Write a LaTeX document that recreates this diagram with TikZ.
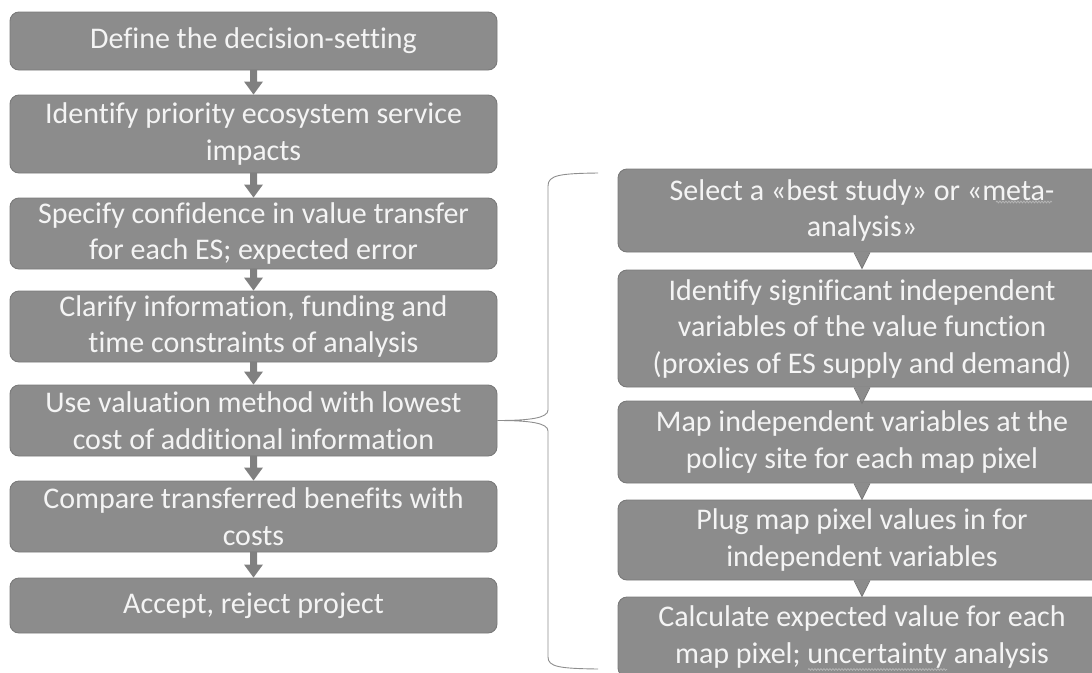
\documentclass[tikz,border=0pt]{standalone}
\usepackage{fontspec}
\setmainfont{Carlito}[Ligatures={NoCommon}]
\usetikzlibrary{calc,decorations.pathmorphing}
\definecolor{boxfill}{HTML}{8C8C8C}
\definecolor{boxline}{HTML}{7A7A7A}
\definecolor{arrowc}{HTML}{808080}
\definecolor{txt}{HTML}{F4F4F4}
\definecolor{bracec}{HTML}{8E8E8E}
\definecolor{wavec}{HTML}{B4B4B4}
\begin{document}
\begin{tikzpicture}[x=1pt,y=-1pt,
  box/.style={draw=boxline, line width=0.9pt, fill=boxfill, rounded corners=9pt,
    text=txt, align=center, font=\fontsize{30}{36.5}\selectfont, inner sep=0pt},
  lbox/.style={box, minimum width=487pt},
  rbox/.style={box, minimum width=488pt},
  bracestyle/.style={draw=bracec, line width=0.9pt},
  wavy/.style={draw=wavec, line width=0.8pt, decorate,
    decoration={snake, amplitude=0.9pt, segment length=3pt}}
]
\useasboundingbox (0,0) rectangle (1092,672);
\clip (0,0) rectangle (1092,672);

% left column
\node[lbox, minimum height=58pt] (L1) at (253.5,41) {Define the decision-setting};
\node[lbox, minimum height=78pt] (L2) at (253.5,134) {Identify priority ecosystem service\\impacts};
\node[lbox, minimum height=71pt] (L3) at (253.5,233.5) {Specify confidence in value transfer\\for each ES; expected error};
\node[lbox, minimum height=71pt] (L4) at (253.5,326.5) {Clarify information, funding and\\time constraints of analysis};
\node[lbox, minimum height=71pt] (L5) at (253.5,420.5) {Use valuation method with lowest\\cost of additional information};
\node[lbox, minimum height=71pt] (L6) at (253.5,516.5) {Compare transferred benefits with\\costs};
\node[lbox, minimum height=55pt] (L7) at (253.5,605.5) {Accept, reject project};

% left arrows
\foreach \a/\b in {L1/L2,L2/L3,L3/L4,L4/L5,L5/L6,L6/L7}{
  \fill[arrowc] ($(\a.south)+(-3.5,-0.5)$) -- ($(\b.north)+(-3.5,-13)$)
    -- ($(\b.north)+(-9.5,-13)$) -- ($(\b.north)+(0,0)$)
    -- ($(\b.north)+(9.5,-13)$) -- ($(\b.north)+(3.5,-13)$)
    -- ($(\a.south)+(3.5,-0.5)$) -- cycle;
}

% right column
\node[rbox, minimum height=83pt] (R1) at (862,210.5) {Select a «best study» or «meta-\\analysis»};
\node[rbox, minimum height=117pt] (R2) at (862,328.5) {Identify significant independent\\variables of the value function\\(proxies of ES supply and demand)};
\node[rbox, minimum height=82pt] (R3) at (862,442) {Map independent variables at the\\policy site for each map pixel};
\node[rbox, minimum height=80pt] (R4) at (862,540) {Plug map pixel values in for\\independent variables};
\node[rbox, minimum height=80pt] (R5) at (862,637) {Calculate expected value for each\\map pixel; uncertainty analysis};

% right pointers
\foreach \a in {R1,R2,R3,R4}{
  \fill[boxfill] ($(\a.south)+(-8,-1)$) -- ($(\a.south)+(0,16)$) -- ($(\a.south)+(8,-1)$) -- cycle;
  \draw[boxline, line width=0.9pt] ($(\a.south)+(-8,0)$) -- ($(\a.south)+(0,16)$) -- ($(\a.south)+(8,0)$);
}

% spell-check underlines
\draw[wavy] (996,202) -- (1052,202);
\draw[wavy] (808,669.5) -- (947,669.5);

% brace
\coordinate (btop) at (598,173);
\coordinate (bbot) at (598,669);
\draw[bracestyle] (btop) .. controls (560,173.5) and (548,175) .. (548,186)
  -- (548,410) .. controls (548,418) and (530,420.5) .. (L5.east)
  .. controls (530,420.5) and (548,423) .. (548,431)
  -- (548,657) .. controls (548,667) and (560,668.5) .. (bbot);
\end{tikzpicture}
\end{document}
